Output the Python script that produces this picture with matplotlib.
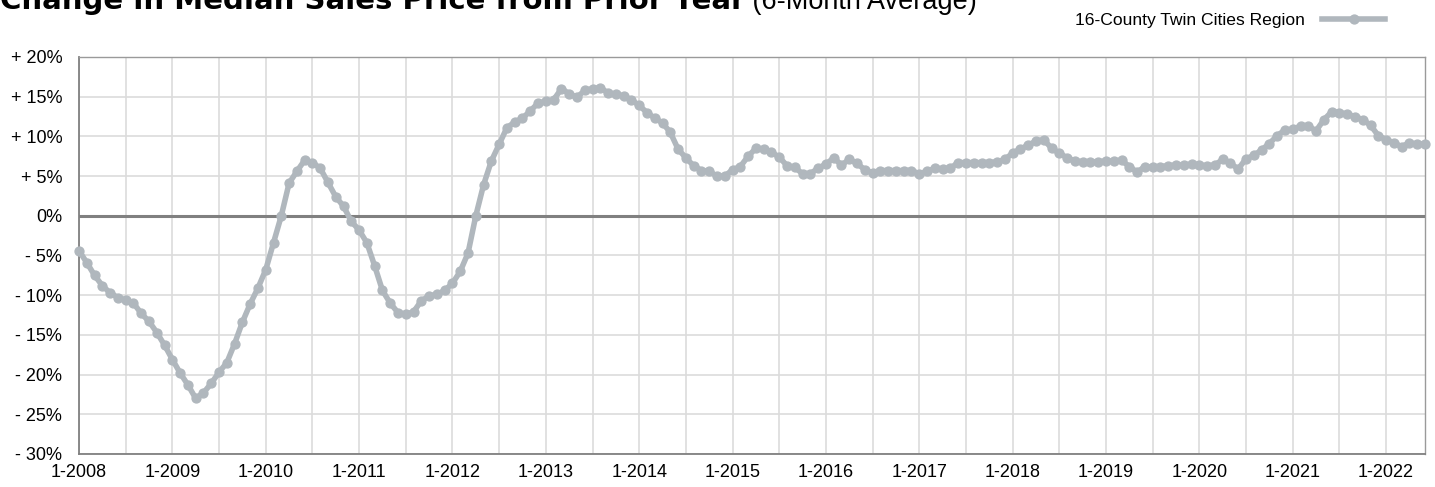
import numpy as np
import matplotlib
matplotlib.use("Agg")
import matplotlib.pyplot as plt

plt.rcParams['font.family'] = ['Liberation Sans', 'DejaVu Sans']

# 6-month average change in median sales price, monthly from 1-2008 to 6-2022
series_name = "16-County Twin Cities Region"
pct_change = [
    -4.4, -5.9, -7.5, -8.8, -9.7, -10.3, -10.6, -11.0, -12.3, -13.3, -14.7, -16.3,   # 2008
    -18.1, -19.8, -21.3, -23.0, -22.3, -21.1, -19.7, -18.5, -16.1, -13.4, -11.1, -9.1,  # 2009
    -6.8, -3.4, 0.0, 4.1, 5.6, 7.0, 6.7, 6.0, 4.2, 2.4, 1.2, -0.7,                   # 2010
    -1.8, -3.4, -6.3, -9.4, -11.0, -12.2, -12.4, -12.1, -10.7, -10.1, -9.9, -9.4,    # 2011
    -8.5, -7.0, -4.7, 0.0, 3.9, 6.9, 9.0, 11.1, 11.8, 12.3, 13.2, 14.2,              # 2012
    14.4, 14.6, 16.0, 15.4, 14.9, 15.8, 16.0, 16.1, 15.5, 15.3, 15.1, 14.6,          # 2013
    13.9, 13.0, 12.3, 11.7, 10.5, 8.4, 7.3, 6.3, 5.7, 5.6, 5.0, 5.0,                 # 2014
    5.8, 6.2, 7.5, 8.5, 8.4, 8.0, 7.4, 6.3, 6.1, 5.3, 5.3, 6.0,                      # 2015
    6.5, 7.3, 6.4, 7.1, 6.6, 5.8, 5.4, 5.7, 5.7, 5.7, 5.7, 5.7,                      # 2016
    5.3, 5.6, 6.0, 5.9, 6.0, 6.7, 6.7, 6.7, 6.7, 6.7, 6.8, 7.1,                      # 2017
    7.9, 8.4, 8.9, 9.4, 9.6, 8.5, 7.9, 7.3, 6.9, 6.8, 6.8, 6.8,                      # 2018
    6.9, 6.9, 7.0, 6.2, 5.5, 6.2, 6.1, 6.2, 6.3, 6.4, 6.4, 6.5,                      # 2019
    6.4, 6.3, 6.4, 7.1, 6.6, 5.9, 7.2, 7.6, 8.3, 9.1, 10.1, 10.8,                    # 2020
    10.9, 11.3, 11.3, 10.7, 12.1, 13.1, 13.0, 12.8, 12.5, 12.1, 11.4, 10.1,          # 2021
    9.6, 9.2, 8.7, 9.2, 9.0, 9.1,                                                    # 2022
]
year_labels = ["1-2008", "1-2009", "1-2010", "1-2011", "1-2012", "1-2013", "1-2014",
               "1-2015", "1-2016", "1-2017", "1-2018", "1-2019", "1-2020", "1-2021", "1-2022"]
y_ticks = [20, 15, 10, 5, 0, -5, -10, -15, -20, -25, -30]

line_color = "#b0b7bd"

fig = plt.figure(figsize=(14.35, 4.87), dpi=100)
ax = fig.add_axes([79 / 1435, 33 / 487, 1346 / 1435, 397 / 487])

x = np.arange(len(pct_change))
ax.plot(x, pct_change, color=line_color, lw=4.0, marker='o', ms=6.4,
        mec=line_color, mfc=line_color, clip_on=False, zorder=4, label=series_name)
ax.axhline(0, color="#808080", lw=2.2, zorder=3)

ax.set_xlim(0, len(pct_change) - 1)
ax.set_ylim(-30, 20)

# grid every 6 months and every 5%
ax.set_xticks(np.arange(0, len(pct_change), 6), minor=True)
ax.set_xticks(np.arange(0, 12 * len(year_labels), 12))
ax.set_xticklabels(year_labels)
ax.set_yticks(y_ticks)
ax.set_yticklabels([("+ %d%%" % v) if v > 0 else ("0%" if v == 0 else "- %d%%" % -v) for v in y_ticks])
ax.grid(True, which='both', color="#dcdcdc", lw=1.2, zorder=0)
ax.tick_params(which='both', length=0, labelsize=13, colors='black')
ax.tick_params(axis='x', pad=7)
ax.tick_params(axis='y', pad=12)

for side in ['left', 'bottom']:
    ax.spines[side].set_color("#808080")
    ax.spines[side].set_linewidth(1.3)
for side in ['top', 'right']:
    ax.spines[side].set_color("#9a9a9a")
    ax.spines[side].set_linewidth(1.0)

# title, partly cut off at the top edge
t1 = fig.text(0.0, 1 - 9 / 487, "Change in Median Sales Price from Prior Year", fontsize=21,
              fontweight='bold', family=['DejaVu Sans'], ha='left', va='baseline')
fig.canvas.draw()
bb = t1.get_window_extent()
fig.text(bb.x1 / fig.bbox.width, 1 - 9 / 487, " (6-Month Average)", fontsize=19.5,
         ha='left', va='baseline')

ax.legend(loc='center right', bbox_to_anchor=(1392 / 1435, 1 - 20 / 487),
          bbox_transform=fig.transFigure, frameon=False, markerfirst=False,
          handlelength=3.6, fontsize=12.6, borderaxespad=0, handletextpad=1.0)

fig.savefig("out.png", dpi=100)
